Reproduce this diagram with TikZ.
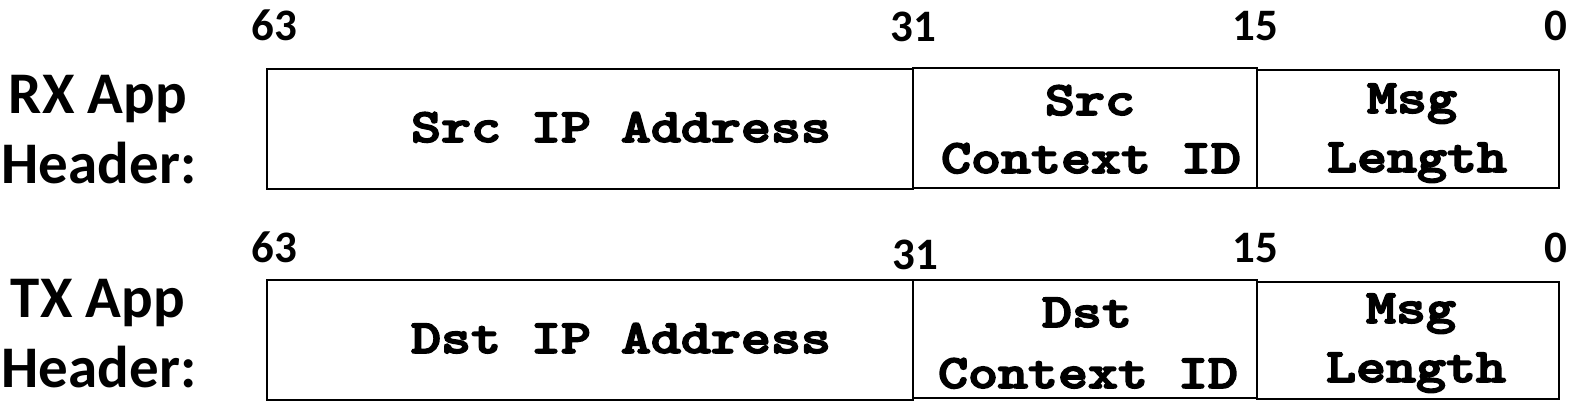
\documentclass[tikz,border=0pt]{standalone}
\usepackage{fontspec}
\newfontfamily\labfont{Carlito}
\newfontfamily\codefont{lmmonolt10-bold.otf}[RawFeature={embolden=3.2}]
\begin{document}
\begin{tikzpicture}[x=1pt,y=-1pt,
  fieldbox/.style={draw, line width=2pt, inner sep=0pt, minimum width=#1},
  fieldtxt/.style={anchor=base, inner sep=0pt, font=\fontsize{48}{54}\selectfont\codefont, xscale=1.19},
  rowlab/.style={anchor=base, inner sep=0pt, font=\fontsize{59}{70}\selectfont\labfont\bfseries},
  bitnum/.style={anchor=base, inner sep=0pt, font=\fontsize{45}{50}\selectfont\labfont\bfseries}]
\useasboundingbox (0,0) rectangle (1570,413);
% ---- RX row ----
\node[fieldbox=646pt, minimum height=120pt] (rxip) at (590,129) {};
\node[fieldbox=344pt, minimum height=120pt] (rxctx) at (1085,128) {};
\node[fieldbox=302pt, minimum height=118pt] (rxlen) at (1408,129) {};
\node[fieldtxt] (rxiptxt) at (621,142) {Src IP Address};
\node[fieldtxt] (rxctx1) at (1090,115) {Src};
\node[fieldtxt] (rxctx2) at (1091,173) {Context ID};
\node[fieldtxt] (rxlen1) at (1412,113) {Msg};
\node[fieldtxt] (rxlen2) at (1417,172) {Length};
\node[rowlab] (rxlab1) at (98,113) {RX App};
\node[rowlab] (rxlab2) at (99,183) {Header:};
\node[bitnum] (rx63) at (274,40) {63};
\node[bitnum] (rx31) at (913,41) {31};
\node[bitnum] (rx15) at (1255,40) {15};
\node[bitnum] (rx0) at (1556,40) {0};
% ---- TX row ----
\node[fieldbox=646pt, minimum height=120pt] (txip) at (590,340) {};
\node[fieldbox=344pt, minimum height=118pt] (txctx) at (1085,339) {};
\node[fieldbox=302pt, minimum height=117pt] (txlen) at (1408,340.5) {};
\node[fieldtxt] (txiptxt) at (621,353) {Dst IP Address};
\node[fieldtxt] (txctx1) at (1087,327) {Dst};
\node[fieldtxt] (txctx2) at (1088,388) {Context ID};
\node[fieldtxt] (txlen1) at (1411,323) {Msg};
\node[fieldtxt] (txlen2) at (1416,382) {Length};
\node[rowlab] (txlab1) at (98,317) {TX App};
\node[rowlab] (txlab2) at (99,387) {Header:};
\node[bitnum] (tx63) at (274,262) {63};
\node[bitnum] (tx31) at (915,269) {31};
\node[bitnum] (tx15) at (1255,262) {15};
\node[bitnum] (tx0) at (1556,262) {0};
\end{tikzpicture}
\end{document}
